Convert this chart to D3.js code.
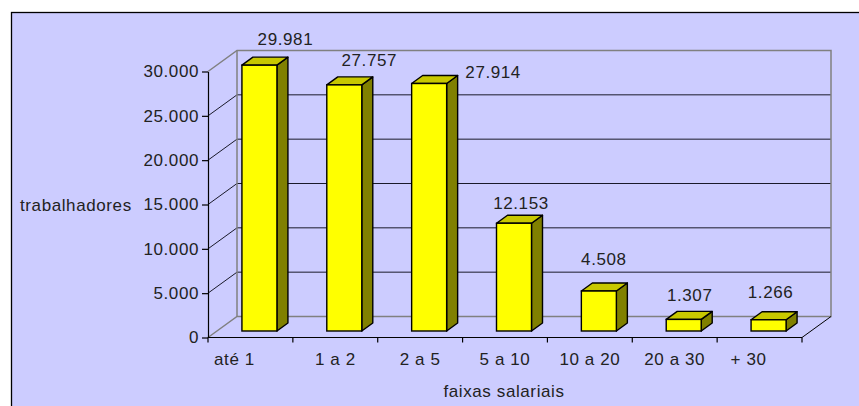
<!DOCTYPE html>
<html>
<head>
<meta charset="utf-8">
<script src="https://cdn.jsdelivr.net/npm/d3@7"></script>
<style>
  html, body { margin: 0; padding: 0; background: #ffffff; }
  svg { display: block; }
  text { font-family: "Liberation Sans", Arial, sans-serif; font-size: 17px; fill: #222222; letter-spacing: 0.6px; }
</style>
</head>
<body>
<svg id="chart" width="859" height="406"></svg>
<script>
// Workers per salary band
const categories = ["até 1", "1 a 2", "2 a 5", "5 a 10", "10 a 20", "20 a 30", "+ 30"];
const workers = [29981, 27757, 27914, 12153, 4508, 1307, 1266];
const yTicks = [0, 5000, 10000, 15000, 20000, 25000, 30000];

const svg = d3.select("#chart");

// Brazilian number format: 29.981
const fmt = d3.formatLocale({ decimal: ",", thousands: ".", grouping: [3], currency: ["R$", ""] }).format(",d");

// Frame of the plot area
svg.append("rect")
  .attr("x", 11.5).attr("y", 12.5)
  .attr("width", 900).attr("height", 500)
  .attr("fill", "#ccccff")
  .attr("stroke", "#000000").attr("stroke-width", 1.3);

// Front plane scales
const x = d3.scaleBand().domain(categories).range([208, 802]).padding(0);
const y = d3.scaleLinear().domain([0, 30000]).range([337.5, 71.5]);

// Depth of the 3D box (back wall offset) and of the bars
const wallDx = 29, wallDy = -21;
const barOffX = 9, barOffY = -6.5;      // front face of bars sits inside the box
const barDx = 11, barDy = -8;           // bar depth
const barW = 35;

const x0 = x.range()[0], x1 = x.range()[1];
const yTop = y(yTicks[yTicks.length - 1]), yBase = y(0);

const back = svg.append("g");

// Horizontal gridlines on the back wall plus the diagonals on the side wall
yTicks.forEach(t => {
  const yy = y(t);
  if (t !== 0 && t !== 30000) {
    back.append("line")
      .attr("x1", x0 + wallDx).attr("x2", x1 + wallDx)
      .attr("y1", yy + wallDy).attr("y2", yy + wallDy)
      .attr("stroke", "#1a1a2a").attr("stroke-width", 1);
    back.append("line")
      .attr("x1", x0).attr("y1", yy)
      .attr("x2", x0 + wallDx).attr("y2", yy + wallDy)
      .attr("stroke", "#1a1a2a").attr("stroke-width", 1);
  }
});

// Back wall outline and floor (grey)
back.append("path")
  .attr("d", `M${x0},${yTop} L${x0 + wallDx},${yTop + wallDy} L${x1 + wallDx},${yTop + wallDy} L${x1 + wallDx},${yBase + wallDy} L${x0 + wallDx},${yBase + wallDy} L${x0},${yBase}`)
  .attr("fill", "none").attr("stroke", "#808080").attr("stroke-width", 1.5);
back.append("line")
  .attr("x1", x0 + wallDx).attr("y1", yTop + wallDy)
  .attr("x2", x0 + wallDx).attr("y2", yBase + wallDy)
  .attr("stroke", "#808080").attr("stroke-width", 1.5);

// Floor front-right edge
back.append("line")
  .attr("x1", x1).attr("y1", yBase)
  .attr("x2", x1 + wallDx).attr("y2", yBase + wallDy)
  .attr("stroke", "#000000").attr("stroke-width", 1);

// Bars
const bars = svg.append("g").selectAll("g.bar")
  .data(categories.map((c, i) => ({ c, v: workers[i] })))
  .join("g").attr("class", "bar");

function frontLeft(d) { return x(d.c) + (x.bandwidth() - barW) / 2 + barOffX; }

bars.each(function (d) {
  const g = d3.select(this);
  const l = frontLeft(d), r = l + barW;
  const t = y(d.v) + barOffY, b = y(0) + barOffY;
  // side face
  g.append("path")
    .attr("d", `M${r},${t} L${r + barDx},${t + barDy} L${r + barDx},${b + barDy} L${r},${b} Z`)
    .attr("fill", "#808000").attr("stroke", "#000").attr("stroke-width", 1.4).attr("stroke-linejoin", "round");
  // top face
  g.append("path")
    .attr("d", `M${l},${t} L${l + barDx},${t + barDy} L${r + barDx},${t + barDy} L${r},${t} Z`)
    .attr("fill", "#c8c800").attr("stroke", "#000").attr("stroke-width", 1.4).attr("stroke-linejoin", "round");
  // front face
  g.append("rect")
    .attr("x", l).attr("y", t).attr("width", barW).attr("height", b - t)
    .attr("fill", "#ffff00").attr("stroke", "#000").attr("stroke-width", 1.4);
});

// Value labels above the bars
const labelNudge = [[26, -18], [25, -17], [64, -3], [7, -12], [5, -24], [6, -16], [2, -20]];
bars.append("text")
  .attr("x", (d, i) => frontLeft(d) + barW / 2 + labelNudge[i][0])
  .attr("y", (d, i) => y(d.v) + barOffY + barDy + labelNudge[i][1] + 6)
  .attr("text-anchor", "middle")
  .text(d => fmt(d.v));

// Value axis
const yAxis = svg.append("g")
  .attr("transform", `translate(${x0},0)`)
  .call(d3.axisLeft(y).tickValues(yTicks).tickFormat(fmt).tickSize(6).tickSizeOuter(0).tickPadding(3));
yAxis.select(".domain").attr("stroke", "#000").attr("stroke-width", 1.2);
yAxis.selectAll(".tick line").attr("stroke", "#000").attr("stroke-width", 1.2);
yAxis.selectAll("text")
  .attr("font-family", null).attr("font-size", null)
  .style("font-family", "'Liberation Sans', Arial, sans-serif").style("font-size", "17px")
  .style("fill", "#222");

// Category axis: line, boundary ticks, labels
svg.append("line")
  .attr("x1", x0).attr("x2", x1).attr("y1", yBase).attr("y2", yBase)
  .attr("stroke", "#000").attr("stroke-width", 1.2);
const edges = categories.map(c => x(c)).concat([x1]);
svg.append("g").selectAll("line").data(edges).join("line")
  .attr("x1", d => d).attr("x2", d => d)
  .attr("y1", yBase).attr("y2", yBase + 5)
  .attr("stroke", "#000").attr("stroke-width", 1.2);

const catNudge = { "até 1": -16, "+ 30": -11 };
svg.append("g").selectAll("text").data(categories).join("text")
  .attr("x", c => x(c) + x.bandwidth() / 2 + (catNudge[c] || 0))
  .attr("y", yBase + 27)
  .attr("text-anchor", "middle")
  .text(c => c);

// Axis titles
svg.append("text")
  .attr("x", 20).attr("y", 211)
  .text("trabalhadores");
svg.append("text")
  .attr("x", 504).attr("y", 397)
  .attr("text-anchor", "middle")
  .text("faixas salariais");
</script>
</body>
</html>
